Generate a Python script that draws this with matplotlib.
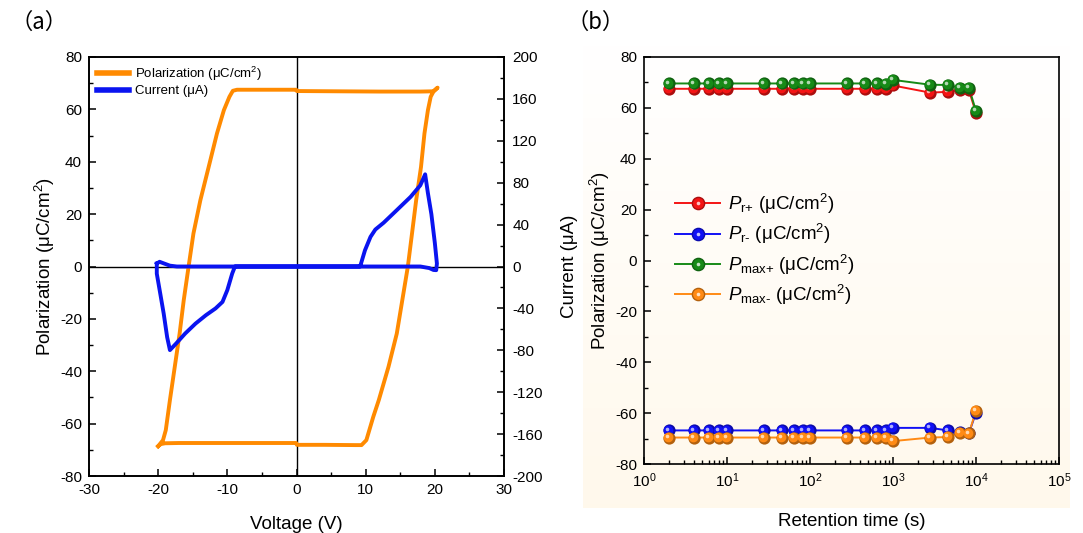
import numpy as np
import matplotlib
matplotlib.use("Agg")
import matplotlib.pyplot as plt
from matplotlib.ticker import MultipleLocator, LogLocator, NullFormatter
from matplotlib.transforms import offset_copy
from matplotlib.lines import Line2D
from matplotlib.legend_handler import HandlerTuple

plt.rcParams["font.family"] = ["Liberation Sans", "DejaVu Sans"]
plt.rcParams["mathtext.fontset"] = "custom"
plt.rcParams["mathtext.rm"] = "Liberation Sans"
plt.rcParams["mathtext.it"] = "Liberation Sans:italic"
plt.rcParams["mathtext.bf"] = "Liberation Sans:bold"
plt.rcParams["axes.unicode_minus"] = False
plt.rcParams["axes.linewidth"] = 1.2

# ---- (a) P-V loop and switching current ----
loop_v = [-20.0, -19.6, -19.0, -17.0, -13.0, -8.0, -3.0, -0.05, 0.05, 4.0, 8.5, 9.4,
          10.1, 11.1, 11.9, 13.3, 14.5, 15.3, 16.1, 16.7, 17.3, 18.0, 18.5, 19.0,
          19.4, 19.8, 20.4, 19.8, 17.9, 12.0, 6.0, 0.05, -0.05, -5.0, -8.6, -9.2,
          -9.7, -10.5, -11.5, -12.7, -13.9, -14.9, -15.6, -16.3, -16.9, -17.6,
          -18.3, -18.9, -19.3, -20.0]
loop_p = [-68.6, -67.8, -67.5, -67.4, -67.4, -67.4, -67.4, -67.4, -68.1, -68.1,
          -68.2, -68.2, -66.3, -57.4, -51.0, -38.3, -25.6, -12.8, 0.0, 12.6, 25.3,
          38.0, 50.8, 59.7, 64.8, 66.8, 68.3, 66.9, 66.8, 66.8, 66.9, 67.0, 67.5,
          67.5, 67.5, 67.1, 64.8, 59.7, 50.8, 38.0, 25.3, 12.6, 0.0, -12.8, -25.6,
          -38.3, -51.0, -62.5, -66.3, -68.6]

curr_v = [-20.2, -19.8, -19.2, -18.3, -17.3, 0.0, 9.2, 9.9, 10.7, 11.4, 12.6, 14.5,
          16.5, 17.9, 18.6, 19.0, 19.5, 20.0, 20.3, 20.2, 19.8, 19.2, 17.9, 0.0,
          -8.9, -9.3, -10.0, -10.7, -11.7, -13.1, -14.6, -16.1, -17.4, -18.3,
          -18.7, -19.2, -19.7, -20.2, -20.2]
curr_ua = [2.8, 4.5, 3.0, 0.8, 0.0, 0.0, 0.0, 15.5, 28.3, 35.3, 41.8, 53.8, 66.5,
           77.5, 88.0, 70.0, 50.0, 22.5, 2.8, -3.5, -3.3, -1.5, 0.0, 0.0, 0.0,
           -6.8, -22.5, -33.8, -40.0, -46.5, -54.5, -64.0, -73.5, -79.8, -67.5,
           -45.0, -25.8, -6.8, 2.8]

# ---- (b) retention ----
ret_time = [2, 4, 6, 8, 10, 28, 46, 64, 82, 100, 280, 460, 640, 820, 1000,
            2800, 4600, 6400, 8200, 10000]
pr_pos = [67.5, 67.5, 67.5, 67.5, 67.5, 67.5, 67.5, 67.5, 67.5, 67.5, 67.5, 67.5,
          67.5, 67.5, 68.8, 66.0, 66.3, 67.0, 67.0, 58.0]
pr_neg = [-66.8, -66.8, -66.8, -66.8, -66.8, -66.8, -66.8, -66.8, -66.8, -66.8,
          -66.8, -66.8, -66.8, -66.8, -65.8, -65.8, -66.8, -67.6, -68.0, -59.8]
pmax_pos = [69.6, 69.6, 69.6, 69.6, 69.6, 69.6, 69.6, 69.6, 69.6, 69.6, 69.6, 69.6,
            69.6, 69.4, 71.0, 69.1, 69.0, 67.9, 68.0, 58.8]
pmax_neg = [-69.6, -69.6, -69.6, -69.6, -69.6, -69.6, -69.6, -69.6, -69.6, -69.6,
            -69.6, -69.6, -69.6, -69.6, -71.0, -69.6, -69.4, -67.8, -68.0, -59.0]

ORANGE = "#FF8A00"
BLUE = "#0A14F0"

fig = plt.figure(figsize=(10.83, 5.33), dpi=100)
W, H = 1083, 533

def frac(x0, y0, x1, y1):
    return [x0 / W, 1 - y1 / H, (x1 - x0) / W, (y1 - y0) / H]

# soft backdrop behind panel (b)
bg = fig.add_axes(frac(583, 45, 1070, 508), zorder=-5)
grad = np.linspace(0, 1, 256)[:, None]
top = np.array([1.0, 1.0, 1.0])
bot = np.array([1.0, 0.975, 0.925])
img = top[None, None, :] * (1 - grad[..., None]) + bot[None, None, :] * grad[..., None]
bg.imshow(img, aspect="auto", extent=[0, 1, 0, 1])
bg.set_axis_off()

# ================= panel (a) =================
ax = fig.add_axes(frac(89, 57, 504, 476))
ax.plot(loop_v, loop_p, color=ORANGE, lw=2.8, solid_joinstyle="round", zorder=3)
ax.axhline(0, color="black", lw=1.0, zorder=1)
ax.axvline(0, color="black", lw=1.0, zorder=1)
ax.set_xlim(-30, 30)
ax.set_ylim(-80, 80)
ax.xaxis.set_major_locator(MultipleLocator(10))
ax.xaxis.set_minor_locator(MultipleLocator(5))
ax.yaxis.set_major_locator(MultipleLocator(20))
ax.yaxis.set_minor_locator(MultipleLocator(10))
ax.tick_params(which="both", direction="in", top=False, right=False, labelsize=11)
ax.tick_params(which="major", length=5, width=1.1, pad=5)
ax.tick_params(which="minor", length=3, width=1.0)
ax.set_xlabel("Voltage (V)", fontsize=13.5, labelpad=14)
ax.set_ylabel("Polarization (μC/cm$^2$)", fontsize=13.5, labelpad=2)

ax2 = ax.twinx()
ax2.plot(curr_v, curr_ua, color=BLUE, lw=2.8, solid_joinstyle="round", zorder=3)
ax2.set_ylim(-200, 200)
ax2.yaxis.set_major_locator(MultipleLocator(40))
ax2.yaxis.set_minor_locator(MultipleLocator(20))
ax2.tick_params(which="both", direction="in", labelsize=11)
ax2.tick_params(which="major", length=5, width=1.1, pad=6)
ax2.tick_params(which="minor", length=3, width=1.0)
ax2.set_ylabel("Current (μA)", fontsize=13.5, rotation=90, labelpad=13)

handles = [Line2D([], [], color=ORANGE, lw=4), Line2D([], [], color=BLUE, lw=4)]
ax.legend(handles, ["Polarization (μC/cm$^2$)", "Current (μA)"], loc="upper left",
          frameon=False, fontsize=9.5, handlelength=2.4, handletextpad=0.5,
          borderaxespad=0.2, labelspacing=0.15)

# ================= panel (b) =================
bx = fig.add_axes(frac(644, 57, 1059, 464))
bx.set_facecolor("none")

def shade(c, k):
    c = np.array(matplotlib.colors.to_rgb(c))
    return tuple(c * k) if k < 1 else tuple(c + (1 - c) * (k - 1))

series = [
    (pr_pos, "#F41414", r"$\mathit{P}_\text{r+}$ (μC/cm$^2$)"),
    (pr_neg, "#1010F5", r"$\mathit{P}_\text{r-}$ (μC/cm$^2$)"),
    (pmax_pos, "#178A17", r"$\mathit{P}_\text{max+}$ (μC/cm$^2$)"),
    (pmax_neg, "#FF8A14", r"$\mathit{P}_\text{max-}$ (μC/cm$^2$)"),
]
hi_tr = offset_copy(bx.transData, fig=fig, x=-1.3, y=1.3, units="points")
mid_tr = offset_copy(bx.transData, fig=fig, x=-0.5, y=0.5, units="points")
leg_handles, leg_labels = [], []
for vals, col, lab in series:
    bx.plot(ret_time, vals, color=col, lw=1.4, zorder=3)
    bx.plot(ret_time, vals, ls="none", marker="o", ms=8.8, mfc=shade(col, 0.7),
            mec="none", zorder=4)
    bx.plot(ret_time, vals, ls="none", marker="o", ms=7.0, mfc=col, mec="none",
            transform=mid_tr, zorder=4)
    bx.plot(ret_time, vals, ls="none", marker="o", ms=2.6, mfc=shade(col, 1.75),
            mec="none", alpha=0.9, transform=hi_tr, zorder=4)
    h1 = Line2D([], [], color=col, lw=1.4, marker="o", ms=8.8, mfc=col, mec=shade(col, 0.7))
    h2 = Line2D([], [], ls="none", marker="o", ms=2.6, mfc=shade(col, 1.75), mec="none")
    leg_handles.append((h1, h2))
    leg_labels.append(lab)

bx.set_xscale("log")
bx.set_xlim(1, 1e5)
bx.set_ylim(-80, 80)
bx.xaxis.set_major_locator(LogLocator(base=10, numticks=10))
bx.xaxis.set_minor_locator(LogLocator(base=10, subs=np.arange(2, 10), numticks=20))
bx.xaxis.set_minor_formatter(NullFormatter())
bx.yaxis.set_major_locator(MultipleLocator(20))
bx.yaxis.set_minor_locator(MultipleLocator(10))
bx.tick_params(which="both", direction="in", top=False, right=False, labelsize=11)
bx.tick_params(which="major", length=5, width=1.1, pad=5)
bx.tick_params(which="minor", length=3, width=1.0)
bx.set_xlabel("Retention time (s)", fontsize=13.5, labelpad=17)
bx.set_ylabel("Polarization (μC/cm$^2$)", fontsize=13.5, labelpad=2)
bx.legend(leg_handles, leg_labels, handler_map={tuple: HandlerTuple(ndivide=1)},
          loc="upper left", bbox_to_anchor=(0.035, 0.71), frameon=False,
          fontsize=13.5, handlelength=2.4, handletextpad=0.4, labelspacing=0.33)

fig.text(10 / W, 1 - 22 / H, "（a）", fontsize=16, va="center", ha="left",
         family=["Noto Sans CJK SC", "DejaVu Sans"])
fig.text(567 / W, 1 - 22 / H, "（b）", fontsize=16, va="center", ha="left",
         family=["Noto Sans CJK SC", "DejaVu Sans"])

fig.savefig("out.png", dpi=100)
